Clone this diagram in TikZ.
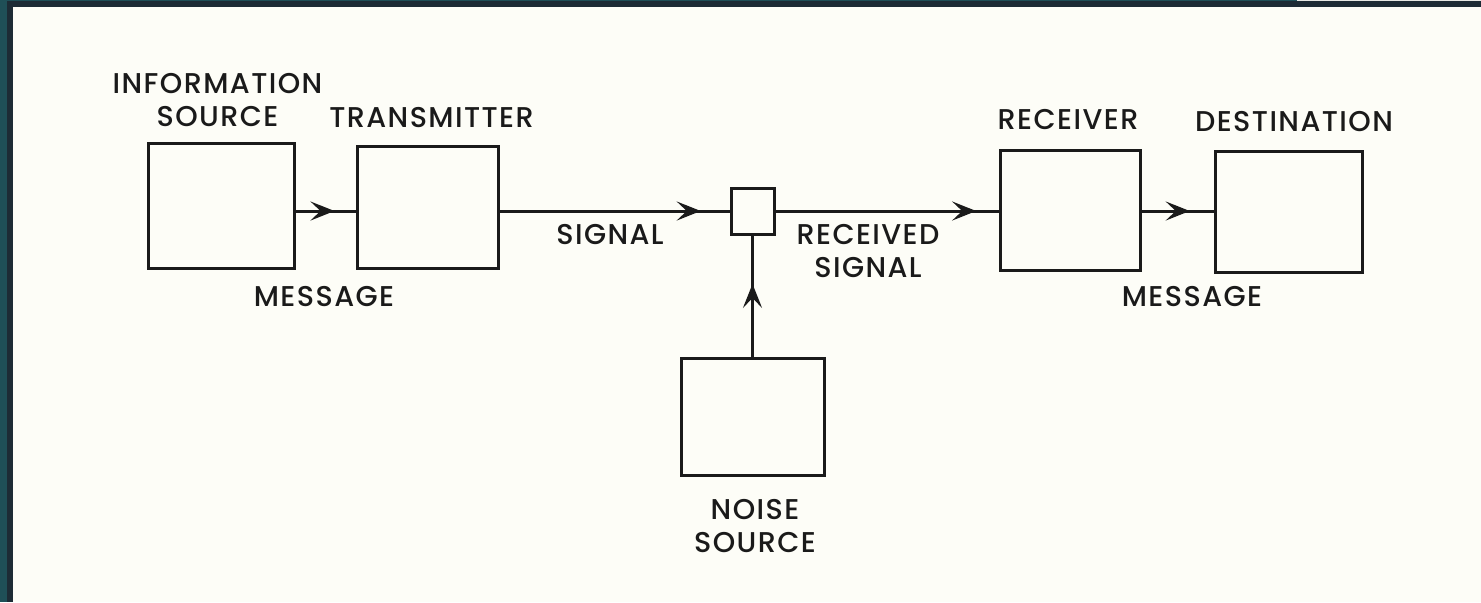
\documentclass[tikz,border=0pt]{standalone}
\usepackage{fontspec}
\newfontfamily\labfont{Poppins}[UprightFont={* Medium},LetterSpace=5]
\usetikzlibrary{arrows.meta,decorations.markings}
\definecolor{paper}{HTML}{FDFDF7}
\definecolor{teal}{HTML}{1F4F57}
\definecolor{navy}{HTML}{1D2B35}
\definecolor{ink}{HTML}{1A1A1A}
\tikzset{
  blk/.style={draw=ink, line width=1.5pt, rectangle, inner sep=0pt},
  lab/.style={anchor=south, inner sep=0pt, text depth=0pt, align=center, text=ink,
    font=\labfont\fontsize{14.3}{16.8}\selectfont},
  conn/.style={draw=ink, line width=1.5pt},
  midarrow/.style={postaction={decorate}, decoration={markings,
    mark=at position #1 with {\arrow{Stealth[length=12pt,width=9.5pt,inset=5pt]}}}}
}
\begin{document}
\begin{tikzpicture}[x=0.5pt,y=-0.5pt]
\useasboundingbox (0,0) rectangle (1481,602);
\fill[paper] (0,0) rectangle (1481,602);
% frame strips
\fill[navy] (0,0) rectangle (1481,7);
\fill[teal] (0,0) rectangle (1297,1.2);
\fill[paper!90!navy] (1297,0) rectangle (1481,1.2);
\fill[teal] (0,0) rectangle (7,602);
\fill[navy] (7,7) rectangle (13,602);
% boxes
\node[blk, minimum width=73pt, minimum height=62.5pt] (src) at (221,205.5) {};
\node[blk, minimum width=70.5pt, minimum height=61pt] (tx) at (427.5,207) {};
\node[blk, minimum width=21.5pt, minimum height=23pt] (mix) at (752.5,211) {};
\node[blk, minimum width=70pt, minimum height=60pt] (rx) at (1070,210) {};
\node[blk, minimum width=73.5pt, minimum height=60.5pt] (dst) at (1288.5,211.5) {};
\node[blk, minimum width=71.5pt, minimum height=58.5pt] (noise) at (753,416.5) {};
% connectors
\draw[conn, midarrow=0.65] (src.east |- mix) -- (tx.west |- mix);
\draw[conn, midarrow=0.875] (tx.east |- mix) -- (mix.west);
\draw[conn, midarrow=0.9] (mix.east) -- (rx.west |- mix);
\draw[conn, midarrow=0.67] (rx.east |- mix) -- (dst.west |- mix);
\draw[conn, midarrow=0.6] (noise.north -| mix) -- (mix.south);
% labels
\node[lab] (lsrc) at (217.5,127) {INFORMATION\\SOURCE};
\node[lab] (ltx) at (431.5,128) {TRANSMITTER};
\node[lab] (lmsg1) at (324,307) {MESSAGE};
\node[lab] (lsig) at (610,245) {SIGNAL};
\node[lab] (lrsig) at (868,278) {RECEIVED\\SIGNAL};
\node[lab] (lrx) at (1068,130) {RECEIVER};
\node[lab] (ldst) at (1294,132) {DESTINATION};
\node[lab] (lmsg2) at (1192,307) {MESSAGE};
\node[lab] (lnoise) at (755,553) {NOISE\\SOURCE};
\end{tikzpicture}
\end{document}
